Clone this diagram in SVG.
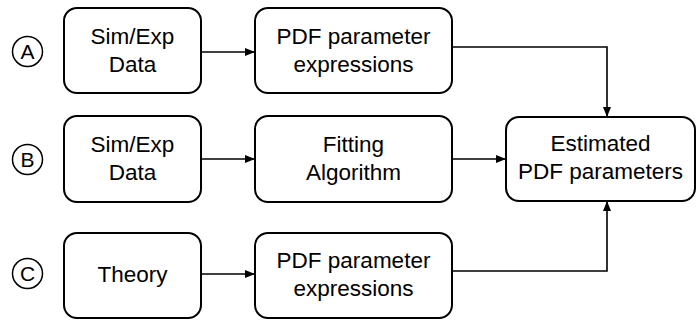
<svg xmlns="http://www.w3.org/2000/svg" width="697" height="321" viewBox="0 0 697 321">
<style>
.box{fill:#fff;stroke:#000;stroke-width:2}
.lbl{font-family:"Liberation Sans",Arial,sans-serif;font-size:22.5px;fill:#000;text-anchor:middle}
.circ{fill:none;stroke:#000;stroke-width:1.5}
.cl{font-family:"Liberation Sans",Arial,sans-serif;font-size:21px;fill:#000;text-anchor:middle}
.edge{fill:none;stroke:#000;stroke-width:1.6}
</style>
<defs>
<marker id="ah" markerWidth="10" markerHeight="8" refX="10" refY="4" orient="auto" markerUnits="userSpaceOnUse">
<path d="M0,0 L10,4 L0,8 Z" fill="#000"/>
</marker>
</defs>
<rect width="697" height="321" fill="#fff"/>
<g id="labelA"><circle class="circ" cx="27.5" cy="51.5" r="15"/><text class="cl" x="27.5" y="59">A</text></g>
<g id="labelB"><circle class="circ" cx="27.5" cy="159.5" r="15"/><text class="cl" x="27.5" y="167">B</text></g>
<g id="labelC"><circle class="circ" cx="27.5" cy="273.5" r="15"/><text class="cl" x="27.5" y="281">C</text></g>
<g id="a1"><rect class="box" x="64" y="8" width="137" height="85" rx="13"/><text class="lbl" x="132.5" y="44">Sim/Exp</text><text class="lbl" x="132.5" y="72">Data</text></g>
<g id="a2"><rect class="box" x="255" y="8" width="197" height="85" rx="13"/><text class="lbl" x="353.5" y="44">PDF parameter</text><text class="lbl" x="353.5" y="72">expressions</text></g>
<g id="b1"><rect class="box" x="64" y="116" width="137" height="86" rx="13"/><text class="lbl" x="132.5" y="152">Sim/Exp</text><text class="lbl" x="132.5" y="180">Data</text></g>
<g id="b2"><rect class="box" x="255" y="116" width="197" height="86" rx="13"/><text class="lbl" x="353.5" y="152">Fitting</text><text class="lbl" x="353.5" y="180">Algorithm</text></g>
<g id="c1"><rect class="box" x="64" y="233" width="137" height="85" rx="13"/><text class="lbl" x="132.5" y="282">Theory</text></g>
<g id="c2"><rect class="box" x="255" y="233" width="197" height="85" rx="13"/><text class="lbl" x="353.5" y="268">PDF parameter</text><text class="lbl" x="353.5" y="296">expressions</text></g>
<g id="est"><rect class="box" x="506" y="117" width="189" height="84" rx="13"/><text class="lbl" x="600.5" y="151">Estimated</text><text class="lbl" x="600.5" y="179">PDF parameters</text></g>
<g id="connectors">
<line class="edge" x1="201" y1="52" x2="255" y2="52" marker-end="url(#ah)"/>
<line class="edge" x1="201" y1="159" x2="255" y2="159" marker-end="url(#ah)"/>
<line class="edge" x1="201" y1="274" x2="255" y2="274" marker-end="url(#ah)"/>
<line class="edge" x1="452" y1="159" x2="506" y2="159" marker-end="url(#ah)"/>
<polyline class="edge" points="452,47 607,47 607,117" marker-end="url(#ah)"/>
<polyline class="edge" points="452,271 607,271 607,201" marker-end="url(#ah)"/>
</g>
</svg>
